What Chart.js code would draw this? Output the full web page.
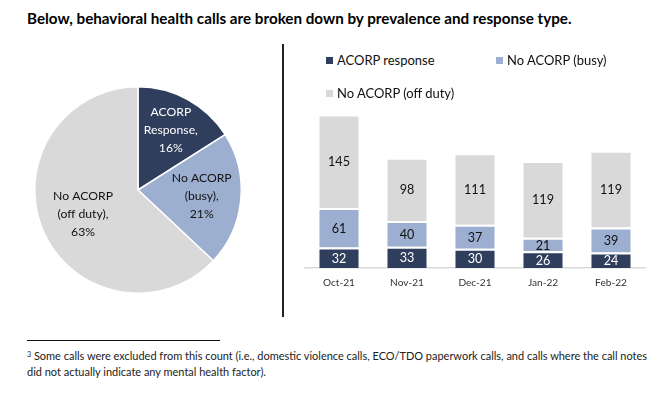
<!DOCTYPE html>
<html><head><meta charset="utf-8">
<script src="https://cdn.jsdelivr.net/npm/chart.js@4"></script>
<style>
html,body{margin:0;padding:0;}
body{width:667px;height:398px;background:#fff;position:relative;overflow:hidden;font-family:Lato,'Open Sans',sans-serif;color:#000;}
.fit{position:absolute;white-space:nowrap;line-height:1;}
#title{left:27px;font-weight:bold;font-size:14px;color:#000;}
#vline{position:absolute;left:282px;top:44px;width:2px;height:273px;background:#222;}
#fline{position:absolute;left:27px;top:339.5px;width:193px;height:1px;background:#111;}
#foot{left:27px;font-size:12px;line-height:15.5px;color:#222;}
#foot sup{font-size:0.65em;vertical-align:0.45em;line-height:0;}
.leg{position:absolute;color:#111;white-space:nowrap;line-height:1;}
.leg i{position:absolute;width:7px;height:7px;}
#pie{position:absolute;left:30px;top:82px;}
#bar{position:absolute;left:300px;top:100px;}
</style></head>
<body>
<div id="title" class="fit">Below, behavioral health calls are broken down by prevalence and response type.</div>
<div id="vline"></div>
<canvas id="pie" width="216" height="216"></canvas>
<canvas id="bar" width="350" height="200"></canvas>
<div id="legend"></div>
<div id="fline"></div>
<div id="foot" class="fit"><sup>3</sup> Some calls were excluded from this count (i.e., domestic violence calls, ECO/TDO paperwork calls, and calls where the call notes<br>did not actually indicate any mental health factor).</div>
<script>
const months = ['Oct-21','Nov-21','Dec-21','Jan-22','Feb-22'];
const seriesNames = ['ACORP response','No ACORP (busy)','No ACORP (off duty)'];
const acorpResponse = [32,33,30,26,24];
const noAcorpBusy = [61,40,37,21,39];
const noAcorpOffDuty = [145,98,111,119,119];
const pieLabels = [['ACORP','Response,'],['No ACORP','(busy),'],['No ACORP','(off duty),']];
const pieShares = [16,21,63];
const seriesColors = ['#303E5D','#9DAFD0','#D9D9D9'];
const labelColors = ['#ffffff','#111111','#111111'];

const FAM = "Lato, 'Open Sans', sans-serif";
Chart.defaults.font.family = FAM;

// text fitting helpers (match the reference text widths)
const mctx = document.createElement('canvas').getContext('2d');
function fitSize(text, target, weight){ mctx.font=(weight||'normal')+' 100px '+FAM; return 100*target/mctx.measureText(text).width; }
function fitEl(el, target){ const w=el.getBoundingClientRect().width; const fs=parseFloat(getComputedStyle(el).fontSize); el.style.fontSize=(fs*target/w)+'px'; }
function placeCenterY(el, cy){ const h=el.getBoundingClientRect().height; el.style.top=(cy-h/2)+'px'; }

const title=document.getElementById('title');
fitEl(title,545); placeCenterY(title,18.5);
const foot=document.getElementById('foot');
fitEl(foot,621);
const fs=parseFloat(getComputedStyle(foot).fontSize);
foot.style.lineHeight='15.5px';
foot.style.top=(363.5-15.5)+'px';

// legend (HTML)
const legFont = fitSize(seriesNames[0],98);
const legPos = [[326,60],[496,60],[326,93]];
const legend = document.getElementById('legend');
seriesNames.forEach((n,i)=>{
  const d=document.createElement('div');d.className='leg';
  d.style.fontSize=legFont+'px';
  d.style.left=(legPos[i][0]+11)+'px';
  d.textContent=n;
  legend.appendChild(d);
  placeCenterY(d,legPos[i][1]);
  const sq=document.createElement('i');
  sq.style.cssText='position:absolute;width:7px;height:7px;left:'+legPos[i][0]+'px;top:'+(legPos[i][1]-3.5)+'px;background:'+seriesColors[i];
  legend.appendChild(sq);
});

const pieFont = fitSize('No ACORP',60);
const pieRadial = [0.66,0.62,0.58];
const pieLabelPlugin = {
  id:'pieLabels',
  afterDatasetsDraw(chart){
    const ctx=chart.ctx; const meta=chart.getDatasetMeta(0);
    ctx.save(); ctx.font=pieFont+'px '+FAM; ctx.textAlign='center'; ctx.textBaseline='middle';
    meta.data.forEach((arc,i)=>{
      const p=arc.getProps(['x','y','startAngle','endAngle','outerRadius'],true);
      const mid=(p.startAngle+p.endAngle)/2; const r=p.outerRadius*pieRadial[i];
      const cx=p.x+Math.cos(mid)*r, cy=p.y+Math.sin(mid)*r;
      const lines=pieLabels[i].concat([chart.data.datasets[0].data[i]+'%']);
      const lh=18; const y0=cy-(lines.length-1)*lh/2;
      ctx.fillStyle=labelColors[i];
      lines.forEach((t,k)=>ctx.fillText(t,cx,y0+k*lh));
    });
    ctx.restore();
  }
};

new Chart(document.getElementById('pie'),{
  type:'pie',
  data:{labels:seriesNames,datasets:[{data:pieShares,backgroundColor:seriesColors,borderColor:'#fff',borderWidth:1.5}]},
  options:{responsive:false,animation:false,layout:{padding:4},
    plugins:{legend:{display:false},tooltip:{enabled:false}}},
  plugins:[pieLabelPlugin]
});

const valFont = fitSize('145',22);
const barLabelPlugin = {
  id:'barLabels',
  afterDatasetsDraw(chart){
    const ctx=chart.ctx;
    ctx.save(); ctx.font=valFont+'px '+FAM; ctx.textAlign='center'; ctx.textBaseline='middle';
    chart.data.datasets.forEach((ds,di)=>{
      const meta=chart.getDatasetMeta(di);
      meta.data.forEach((bar,j)=>{
        const p=bar.getProps(['x','y','base'],true);
        ctx.fillStyle=labelColors[di];
        ctx.fillText(String(ds.data[j]),p.x,(p.y+p.base)/2+1);
      });
    });
    ctx.restore();
  }
};

const tickFont = fitSize('Oct-21',32);
const tickPad = 15 - 0.6*tickFont;
const barCanvas=document.getElementById('bar');
barCanvas.height = Math.round(177 + tickPad + 1.2*tickFont + 2);
const padBottom = barCanvas.height - 177 - tickPad - 1.2*tickFont;

const series=[acorpResponse,noAcorpBusy,noAcorpOffDuty];
new Chart(barCanvas,{
  type:'bar',
  data:{labels:months,datasets:series.map((d,i)=>({label:seriesNames[i],data:d,backgroundColor:seriesColors[i],
    borderColor:'#fff',borderWidth:{top:2,left:0,right:0,bottom:0},borderSkipped:false,
    categoryPercentage:1,barPercentage:0.58}))},
  options:{responsive:false,animation:false,
    layout:{padding:{left:5,right:5,top:6.8,bottom:padBottom}},
    plugins:{legend:{display:false},tooltip:{enabled:false}},
    scales:{
      x:{stacked:true,grid:{display:false,drawTicks:false},border:{display:true,color:'#D9D9D9',width:1.5},
         ticks:{color:'#333',font:{size:tickFont},padding:tickPad}},
      y:{stacked:true,display:false,min:0,max:250}
    }},
  plugins:[barLabelPlugin]
});
</script>
</body></html>
